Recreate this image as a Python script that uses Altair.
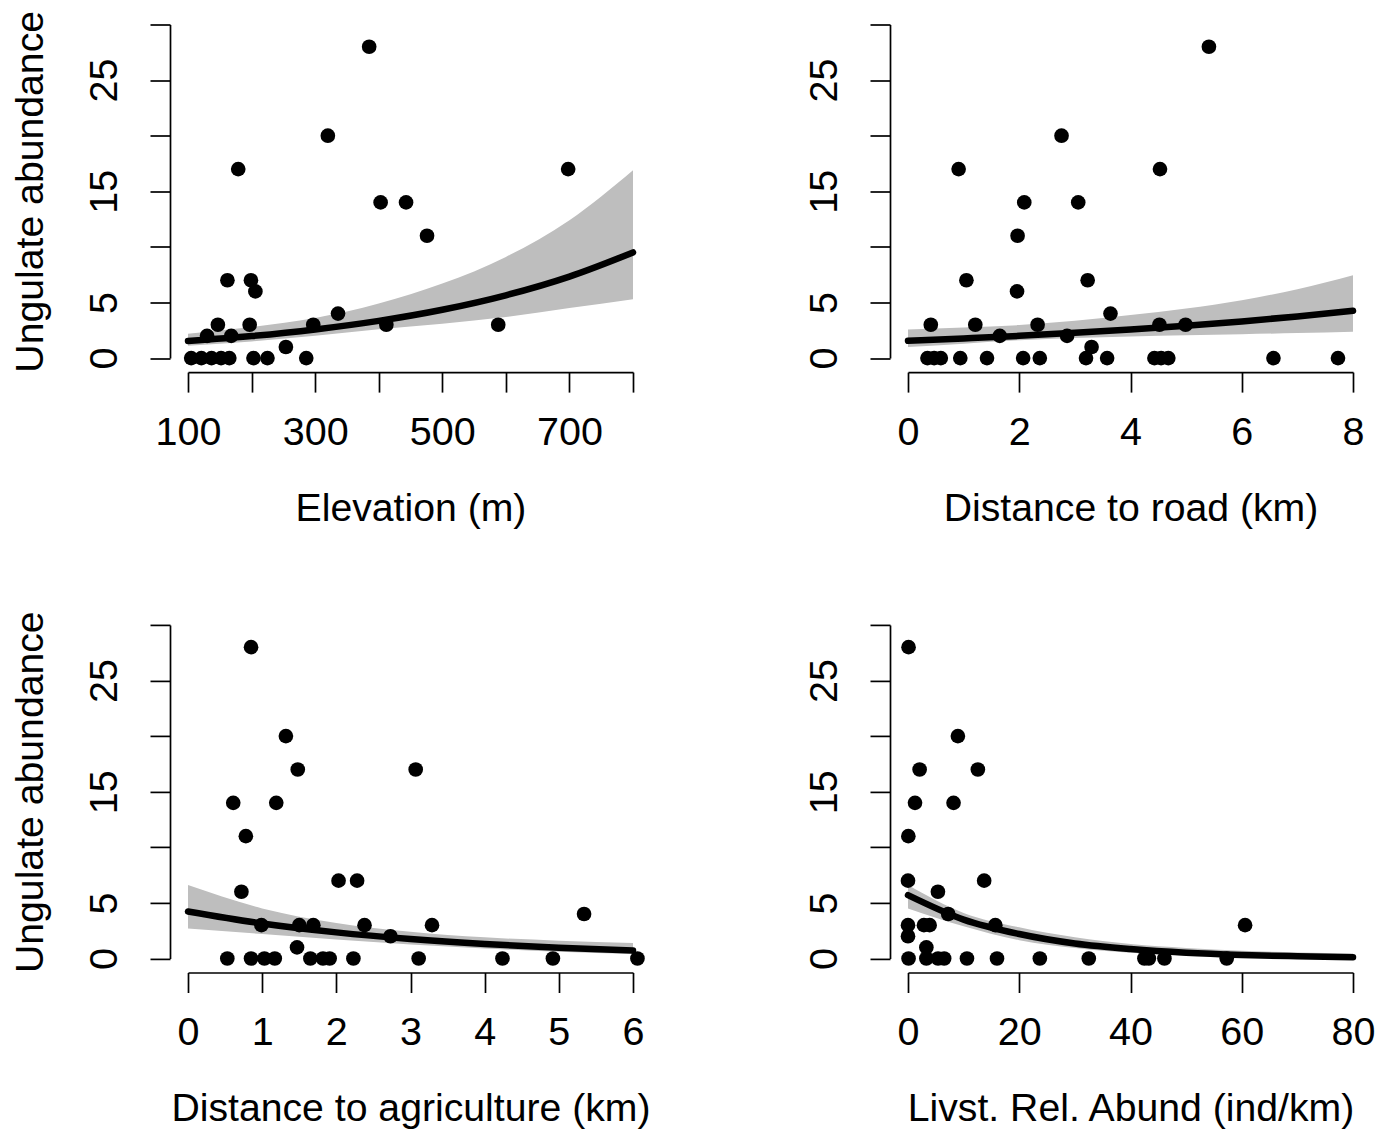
import altair as alt
import pandas as pd

FONT = "Liberation Sans"
GRAY = "#bebebe"

# ---------------- Panel 1: Elevation (m) ----------------
elev_x = [385, 320, 179, 698, 403, 443, 476, 162, 199, 206, 336, 147, 197, 297, 412, 588, 130, 168, 254,
          105, 121, 137, 152, 165, 203, 225, 286]
elev_y = [28, 20, 17, 17, 14, 14, 11, 7, 7, 6, 4, 3, 3, 3, 3, 3, 2, 2, 1,
          0, 0, 0, 0, 0, 0, 0, 0]
elev_fit_x = [100, 200, 300, 400, 500, 600, 700, 800]
elev_fit = [1.53, 1.98, 2.58, 3.35, 4.35, 5.65, 7.33, 9.5]
elev_lo = [1.1, 1.5, 2.0, 2.6, 3.1, 3.7, 4.5, 5.3]
elev_hi = [2.2, 2.8, 3.6, 4.9, 6.7, 9.1, 12.4, 16.9]

# ---------------- Panel 2: Distance to road (km) ----------------
road_x = [5.41, 2.76, 0.91, 4.53, 2.09, 3.06, 1.97, 1.05, 3.23, 1.96, 3.64, 0.41, 1.21, 2.33, 4.52, 4.99,
          1.65, 2.86, 3.30,
          0.35, 0.47, 0.59, 0.94, 1.42, 2.07, 2.37, 3.20, 3.58, 4.43, 4.55, 4.68, 6.57, 7.73]
road_y = [28, 20, 17, 17, 14, 14, 11, 7, 7, 6, 4, 3, 3, 3, 3, 3, 2, 2, 1,
          0, 0, 0, 0, 0, 0, 0, 0, 0, 0, 0, 0, 0, 0]
road_fit_x = [0, 1, 2, 3, 4, 5, 6, 7, 8]
road_fit = [1.56, 1.77, 2.0, 2.27, 2.57, 2.91, 3.30, 3.75, 4.26]
road_lo = [1.0, 1.3, 1.6, 1.8, 1.95, 2.05, 2.15, 2.25, 2.37]
road_hi = [2.58, 2.75, 2.97, 3.35, 3.87, 4.45, 5.2, 6.2, 7.46]

# ---------------- Panel 3: Distance to agriculture (km) ----------------
agri_x = [0.85, 1.32, 1.48, 3.07, 0.61, 1.19, 0.78, 2.03, 2.28, 0.72, 5.34, 0.99, 1.50, 1.69, 2.38, 3.29,
          2.73, 1.47,
          0.53, 0.85, 1.03, 1.17, 1.65, 1.82, 1.91, 2.23, 3.11, 4.24, 4.92, 6.06]
agri_y = [28, 20, 17, 17, 14, 14, 11, 7, 7, 6, 4, 3, 3, 3, 3, 3, 2, 1,
          0, 0, 0, 0, 0, 0, 0, 0, 0, 0, 0, 0]
agri_fit_x = [0, 1, 2, 3, 4, 5, 6]
agri_fit = [4.23, 3.15, 2.35, 1.75, 1.30, 0.97, 0.72]
agri_lo = [2.7, 2.2, 1.7, 1.25, 0.9, 0.6, 0.4]
agri_hi = [6.6, 4.5, 3.2, 2.4, 1.9, 1.6, 1.4]

# ---------------- Panel 4: Livst. Rel. Abund (ind/km) ----------------
livst_x = [0.1, 8.97, 2.09, 12.56, 1.26, 8.19, 0.06, 0.0, 13.69, 5.38, 7.23, 0.0, 2.87, 3.89, 15.7, 60.6,
           0.0, 3.3,
           0.1, 3.3, 5.4, 6.5, 10.6, 16.0, 23.7, 32.5, 42.5, 43.3, 46.1, 57.3]
livst_y = [28, 20, 17, 17, 14, 14, 11, 7, 7, 6, 4, 3, 3, 3, 3, 3, 2, 1,
           0, 0, 0, 0, 0, 0, 0, 0, 0, 0, 0, 0]
livst_fit_x = [0, 10, 20, 30, 40, 50, 60, 70, 80]
livst_fit = [5.7, 3.5, 2.2, 1.35, 0.85, 0.52, 0.32, 0.2, 0.12]
livst_lo = [4.5, 2.9, 1.65, 0.95, 0.52, 0.28, 0.15, 0.08, 0.04]
livst_hi = [6.6, 4.1, 2.8, 1.9, 1.3, 0.95, 0.7, 0.55, 0.45]

Y_TICKS = [0, 5, 10, 15, 20, 25, 30]
Y_SHOWN = [0, 5, 15, 25]

PANEL_W = 445
PANEL_H = 333.6


def label_expr(shown):
    cond = " || ".join(f"datum.value == {v}" for v in shown)
    return f"({cond}) ? datum.label : ''"


def panel(px, py, fx, fy, flo, fhi, xdom, xticks, xshown, xtitle, ytitle):
    pts = pd.DataFrame({"x": px, "y": py})
    fit = pd.DataFrame({"x": fx, "y": fy, "lo": flo, "hi": fhi})

    xscale = alt.Scale(domain=xdom, nice=False, zero=False)
    yscale = alt.Scale(domain=[0, 30], nice=False, zero=False)

    xaxis = alt.Axis(
        values=xticks, labelExpr=label_expr(xshown), title=xtitle, format="d",
        orient="bottom", offset=14, labelBaseline="alphabetic", labelPadding=52,
        labelAlign="center", labelOverlap=False, labelFlush=False,
        titleBaseline="alphabetic", titleY=148,
    )
    yaxis_kw = dict(
        values=Y_TICKS, labelExpr=label_expr(Y_SHOWN), format="d",
        orient="left", offset=18, labelAngle=270, labelAlign="center",
        labelBaseline="alphabetic", labelPadding=34, labelOverlap=False, labelFlush=False,
    )
    if ytitle:
        yaxis = alt.Axis(title=ytitle, titleAngle=270, titleBaseline="alphabetic",
                         titleX=-128, **yaxis_kw)
    else:
        yaxis = alt.Axis(title=None, **yaxis_kw)

    band = alt.Chart(fit).mark_area(color=GRAY, opacity=1, interpolate="monotone").encode(
        x=alt.X("x:Q", scale=xscale, axis=xaxis),
        y=alt.Y("lo:Q", scale=yscale, axis=yaxis),
        y2="hi:Q",
    )
    line = alt.Chart(fit).mark_line(color="black", strokeWidth=6.5, strokeCap="round",
                                    interpolate="monotone").encode(
        x=alt.X("x:Q", scale=xscale),
        y=alt.Y("y:Q", scale=yscale),
    )
    dots = alt.Chart(pts).mark_point(shape="circle", filled=True, color="black",
                                     opacity=1, size=215).encode(
        x=alt.X("x:Q", scale=xscale),
        y=alt.Y("y:Q", scale=yscale),
    )
    return alt.layer(band, line, dots).properties(width=PANEL_W, height=PANEL_H)


p1 = panel(elev_x, elev_y, elev_fit_x, elev_fit, elev_lo, elev_hi,
           [100, 800], [100, 200, 300, 400, 500, 600, 700, 800], [100, 300, 500, 700],
           "Elevation (m)", "Ungulate abundance")
p2 = panel(road_x, road_y, road_fit_x, road_fit, road_lo, road_hi,
           [0, 8], [0, 2, 4, 6, 8], [0, 2, 4, 6, 8],
           "Distance to road (km)", None)
p3 = panel(agri_x, agri_y, agri_fit_x, agri_fit, agri_lo, agri_hi,
           [0, 6], [0, 1, 2, 3, 4, 5, 6], [0, 1, 2, 3, 4, 5, 6],
           "Distance to agriculture (km)", "Ungulate abundance")
p4 = panel(livst_x, livst_y, livst_fit_x, livst_fit, livst_lo, livst_hi,
           [0, 80], [0, 20, 40, 60, 80], [0, 20, 40, 60, 80],
           "Livst. Rel. Abund (ind/km)", None)

chart = alt.concat(
    p1, p2, p3, p4, columns=2, spacing={"row": 266.4, "column": 275}, bounds="flush"
).properties(
    padding={"left": 2, "top": 1.5, "right": 5, "bottom": 5},
    background="white",
).configure_view(stroke=None).configure_axis(
    grid=False, domainColor="black", domainWidth=1.7, tickColor="black", tickWidth=1.7,
    tickSize=20, labelFont=FONT, labelFontSize=39.5, labelColor="black",
    titleFont=FONT, titleFontSize=39.2, titleFontWeight="normal", titleColor="black",
)

chart.save("out.html", embed_options={"renderer": "svg", "actions": False})
